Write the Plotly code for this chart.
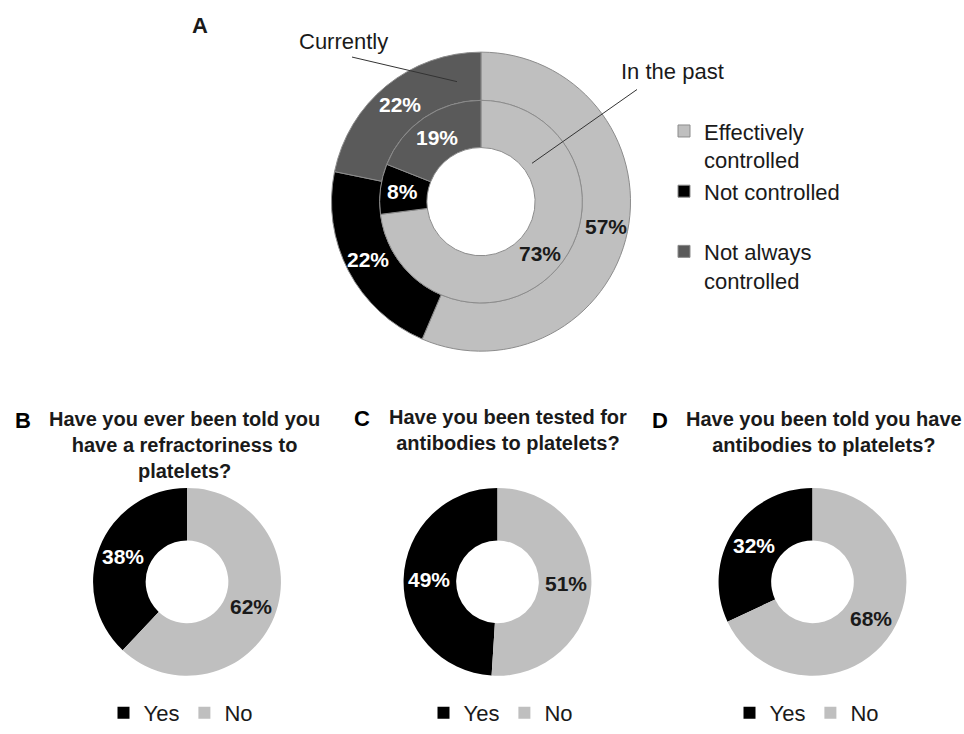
import math
import plotly.graph_objects as go

W, H = 964, 734
FONT = "Arial, 'Liberation Sans', sans-serif"

# Panel A: bleeding control, currently (outer ring) and in the past (inner ring)
control_labels = ["Effectively<br>controlled", "Not controlled<br> ", "Not always<br>controlled"]
currently_pct = [57, 22, 22]
past_pct = [73, 8, 19]
control_colors = ["#bfbfbf", "#000000", "#5a5a5a"]
control_text_colors = ["#1a1a1a", "#ffffff", "#ffffff"]

# Panels B-D: yes / no questions
yes_no_labels = ["Yes", "No"]
yes_no_colors = ["#000000", "#bfbfbf"]
yes_no_text_colors = ["#ffffff", "#1a1a1a"]
refractory_pct = [38, 62]
tested_pct = [49, 51]
antibodies_pct = [32, 68]

panel_letters = ["B", "C", "D"]
panel_questions = [
    "Have you ever been told you<br>have a refractoriness to<br>platelets?",
    "Have you been tested for<br>antibodies to platelets?",
    "Have you been told you have<br>antibodies to platelets?",
]
panel_values = [refractory_pct, tested_pct, antibodies_pct]


def px_domain(cx, cy, r):
    return dict(x=[(cx - r) / W, (cx + r) / W], y=[1 - (cy + r) / H, 1 - (cy - r) / H])


def px(x, y):
    return x / W, 1 - y / H


def ring_labels(values, cx, cy, r_in, r_out, start_deg, text_colors):
    """Percentage labels at the middle of each slice of a clockwise ring."""
    out = []
    total = float(sum(values))
    angle = start_deg
    r_mid = (r_in + r_out) / 2
    for v, col in zip(values, text_colors):
        sweep = 360.0 * v / total
        mid = math.radians(angle + sweep / 2)
        x, y = px(cx + r_mid * math.sin(mid), cy - r_mid * math.cos(mid))
        out.append(dict(x=x, y=y, xref="paper", yref="paper", text=f"<b>{v}%</b>",
                        showarrow=False, xanchor="center", yanchor="middle",
                        font=dict(family=FONT, size=21, color=col)))
        angle += sweep
    return out


annotations = []
shapes = []
fig = go.Figure()

# rings of panel A
A_CX, A_CY = 481, 205
rings = [(currently_pct, 103, 152), (past_pct, 55, 103)]
for vals, r_in, r_out in rings:
    fig.add_trace(go.Pie(
        labels=control_labels, values=vals, sort=False, direction="clockwise", rotation=0,
        hole=r_in / r_out, domain=px_domain(A_CX, A_CY, r_out),
        marker=dict(colors=control_colors, line=dict(color="#8c8c8c", width=1)),
        textinfo="none", legend="legend", hoverinfo="label+value",
    ))
    annotations += ring_labels(vals, A_CX, A_CY, r_in, r_out, 0, control_text_colors)

# donuts of panels B-D; "Yes" ends at 12 o'clock
B_CY, B_R, B_HOLE = 591.5, 95.5, 0.44
centers_x = [187, 497.5, 812.5]
legend_x = [181, 501, 807]
for i, (vals, cx) in enumerate(zip(panel_values, centers_x)):
    start = -360.0 * vals[0] / sum(vals)
    labels = [lab + "\u200b" * i for lab in yes_no_labels]
    fig.add_trace(go.Pie(
        labels=labels, values=vals, sort=False, direction="clockwise", rotation=start,
        hole=B_HOLE, domain=px_domain(cx, B_CY, B_R),
        marker=dict(colors=yes_no_colors, line=dict(width=0)),
        textinfo="none", legend=f"legend{i + 2}", hoverinfo="label+value",
    ))
    annotations += ring_labels(vals, cx, B_CY, B_R * B_HOLE, B_R, start, yes_no_text_colors)

# panel A letter and ring captions
for text, (x, y), size in [("<b>A</b>", (200, 26), 22), ("Currently", (343, 42), 22),
                           ("In the past", (672, 73), 22)]:
    a, b = px(x, y)
    annotations.append(dict(x=a, y=b, xref="paper", yref="paper", text=text, showarrow=False,
                            xanchor="center", yanchor="middle",
                            font=dict(family=FONT, size=size, color="#1a1a1a")))

for (x0, y0, x1, y1) in [(352, 58, 457, 83), (637, 91, 532, 166)]:
    px0, py0 = px(x0, y0)
    px1, py1 = px(x1, y1)
    shapes.append(dict(type="line", xref="paper", yref="paper", x0=px0, y0=py0, x1=px1, y1=py1,
                       line=dict(color="#333333", width=1)))

# panel letters and question titles
letter_pos = [(23, 427), (362, 425), (660, 427)]
title_pos = [(184, 452), (508, 437.5), (824, 439.5)]
for letter, q, (lx, ly), (tx, ty) in zip(panel_letters, panel_questions, letter_pos, title_pos):
    a, b = px(lx, ly)
    annotations.append(dict(x=a, y=b, xref="paper", yref="paper", text=f"<b>{letter}</b>",
                            showarrow=False, xanchor="center", yanchor="middle",
                            font=dict(family=FONT, size=22, color="#000000")))
    a, b = px(tx, ty)
    annotations.append(dict(x=a, y=b, xref="paper", yref="paper", text=f"<b>{q}</b>", align="center",
                            showarrow=False, xanchor="center", yanchor="middle",
                            font=dict(family=FONT, size=20, color="#1a1a1a")))

leg_font = dict(family=FONT, size=22, color="#1a1a1a")
layout_legends = dict(
    legend=dict(x=664 / W, y=1 - 112 / H, xanchor="left", yanchor="top", valign="top",
                font=leg_font, bgcolor="rgba(0,0,0,0)", itemclick=False),
)
for i, lx in enumerate(legend_x):
    layout_legends[f"legend{i + 2}"] = dict(
        orientation="h", x=lx / W, y=1 - 725 / H, xanchor="center", yanchor="middle",
        font=leg_font, bgcolor="rgba(0,0,0,0)", itemclick=False)

fig.update_layout(
    width=W, height=H, margin=dict(l=0, r=0, t=0, b=0),
    paper_bgcolor="#ffffff", plot_bgcolor="#ffffff",
    annotations=annotations, shapes=shapes, showlegend=True,
    **layout_legends,
)

fig.write_html("out.html")
